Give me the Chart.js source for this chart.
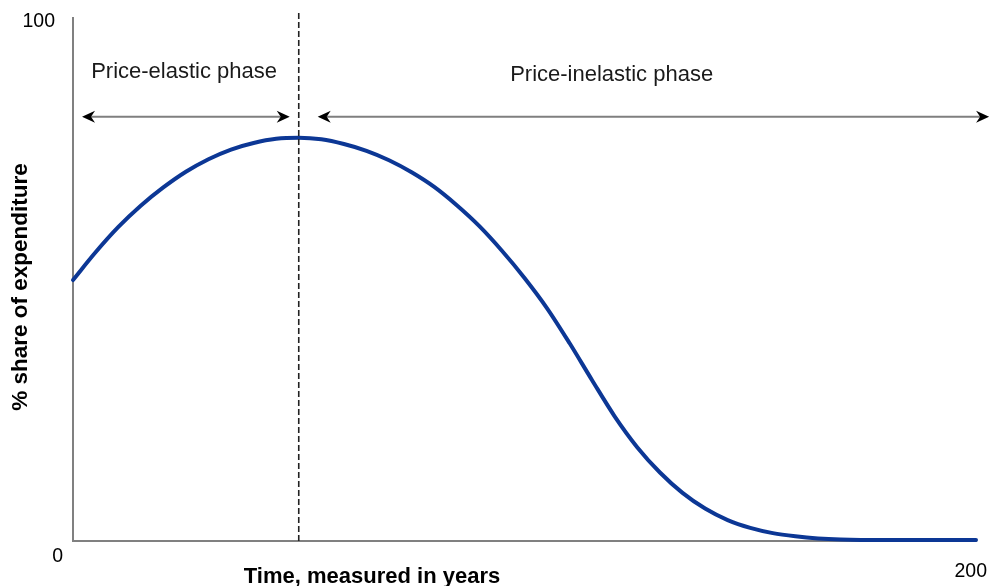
<!DOCTYPE html>
<html>
<head>
<meta charset="utf-8">
<script src="https://cdn.jsdelivr.net/npm/chart.js@4.4.1/dist/chart.umd.min.js"></script>
<style>
  html, body { margin: 0; padding: 0; background: #ffffff; }
  #wrap { width: 1000px; height: 586px; position: relative; }
</style>
</head>
<body>
<div id="wrap"><canvas id="c" width="1000" height="586"></canvas></div>
<script>
// Data
const years = [0, 5, 10, 15, 20, 25, 30, 35, 40, 45, 50, 55, 60, 65, 70, 75, 80, 85, 90, 95, 100, 105, 110, 115, 120, 125, 130, 135, 140, 145, 150, 155, 160, 165, 170, 180, 190, 200];
const share = [49.9, 55.2, 60.0, 64.1, 67.6, 70.6, 73.0, 74.85, 76.1, 76.9, 77.1, 76.8, 75.9, 74.6, 72.8, 70.5, 67.7, 64.2, 60.2, 55.5, 50.3, 44.5, 37.8, 30.7, 23.8, 17.9, 13.1, 9.2, 6.2, 4.0, 2.5, 1.5, 0.9, 0.5, 0.3, 0.2, 0.2, 0.2];
const phaseBoundary = 50;
const xTickLabels = ["0", "200"];
const yTickLabels = ["0", "100"];
const phaseLabels = ["Price-elastic phase", "Price-inelastic phase"];
const xTitle = "Time, measured in years";
const yTitle = "% share of expenditure";

const curvePoints = years.map((x, i) => ({ x: x, y: share[i] }));
const boundaryPoints = [{ x: phaseBoundary, y: 0 }, { x: phaseBoundary, y: 101.2 }];

function arrowHead(ctx, x, y, dir) {
  // dir: -1 pointing left, 1 pointing right
  ctx.beginPath();
  ctx.moveTo(x, y);
  ctx.lineTo(x - dir * 13, y - 6);
  ctx.lineTo(x - dir * 9, y);
  ctx.lineTo(x - dir * 13, y + 6);
  ctx.closePath();
  ctx.fill();
}

const annotate = {
  id: 'annotate',
  afterDraw(chart) {
    const ctx = chart.ctx;
    const xs = chart.scales.x, ys = chart.scales.y;
    const a = chart.chartArea;
    ctx.save();
    // arrows
    const ay = ys.getPixelForValue(81.1);
    const segs = [[2, 48], [54.2, 202.9]];
    ctx.strokeStyle = '#7f7f7f';
    ctx.fillStyle = '#000000';
    ctx.lineWidth = 2;
    segs.forEach(s => {
      const x1 = xs.getPixelForValue(s[0]);
      const x2 = xs.getPixelForValue(s[1]);
      ctx.beginPath();
      ctx.moveTo(x1 + 9, ay);
      ctx.lineTo(x2 - 9, ay);
      ctx.stroke();
      arrowHead(ctx, x1, ay, -1);
      arrowHead(ctx, x2, ay, 1);
    });
    // phase labels
    ctx.fillStyle = '#1a1a1a';
    ctx.font = '22px "Liberation Sans", Arial, sans-serif';
    ctx.textAlign = 'center';
    ctx.textBaseline = 'middle';
    ctx.fillText(phaseLabels[0], xs.getPixelForValue(24.6), ys.getPixelForValue(89.6));
    ctx.fillText(phaseLabels[1], xs.getPixelForValue(119.3), ys.getPixelForValue(89.2));
    // tick labels
    ctx.fillStyle = '#000000';
    ctx.font = '19.5px "Liberation Sans", Arial, sans-serif';
    ctx.textAlign = 'right';
    ctx.fillText(yTickLabels[1], a.left - 18, ys.getPixelForValue(100) + 4);
    ctx.fillText(yTickLabels[0], a.left - 10, ys.getPixelForValue(0) + 16);
    ctx.fillText(xTickLabels[1], xs.getPixelForValue(200) + 11, ys.getPixelForValue(0) + 31);
    // axis titles
    ctx.font = 'bold 22px "Liberation Sans", Arial, sans-serif';
    ctx.textAlign = 'center';
    ctx.fillText(xTitle, 372, ys.getPixelForValue(0) + 36);
    ctx.font = 'bold 22.5px "Liberation Sans", Arial, sans-serif';
    ctx.translate(21, 287);
    ctx.rotate(-Math.PI / 2);
    ctx.fillText(yTitle, 0, 0);
    ctx.restore();
  }
};

new Chart(document.getElementById('c'), {
  type: 'scatter',
  data: {
    datasets: [
      {
        data: curvePoints,
        showLine: true,
        borderColor: '#0c3795',
        borderWidth: 4,
        borderCapStyle: 'round',
        borderJoinStyle: 'round',
        pointRadius: 0,
        cubicInterpolationMode: 'monotone',
        fill: false,
        clip: false,
        order: 1
      },
      {
        data: boundaryPoints,
        showLine: true,
        borderColor: '#222222',
        borderWidth: 1.6,
        borderDash: [6, 3],
        pointRadius: 0,
        fill: false,
        clip: false,
        order: 0
      }
    ]
  },
  options: {
    responsive: false,
    animation: false,
    events: [],
    layout: { padding: { left: 73, right: 24, top: 18, bottom: 45 } },
    plugins: { legend: { display: false }, tooltip: { enabled: false } },
    scales: {
      x: {
        type: 'linear', min: 0, max: 200,
        grid: { display: false, drawTicks: false },
        border: { display: true, color: '#808080', width: 2 },
        ticks: { display: false }
      },
      y: {
        type: 'linear', min: 0, max: 100,
        grid: { display: false, drawTicks: false },
        border: { display: true, color: '#808080', width: 2 },
        ticks: { display: false }
      }
    }
  },
  plugins: [annotate]
});
</script>
</body>
</html>
